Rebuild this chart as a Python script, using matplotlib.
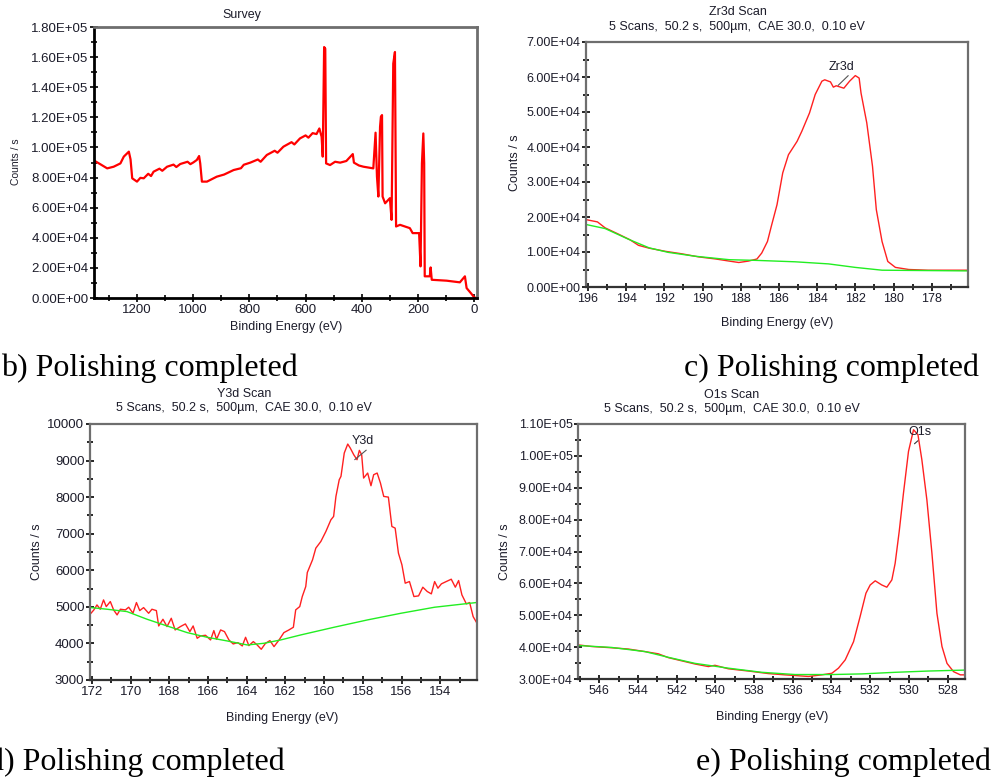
import matplotlib.pyplot as plt
from matplotlib.ticker import MultipleLocator, FuncFormatter

# Survey spectrum (binding energy eV, counts/s)
survey_be = [1350, 1330, 1306, 1283, 1259, 1247, 1229, 1223, 1217, 1200, 1188, 1176, 1160, 1150,
             1141, 1120, 1110, 1093, 1070, 1060, 1046, 1020, 1010, 999, 987, 979, 975, 969, 951,
             916, 890, 856, 830, 820, 797, 770, 760, 738, 710, 700, 679, 650, 640, 620, 600, 590,
             575, 561, 551, 543, 539, 534, 530, 527, 513, 495, 477, 455, 432, 428, 410, 394, 359,
             351, 346, 341, 335, 332, 328, 326, 317, 300, 294, 288, 282, 278, 264, 229, 219, 196,
             191, 186, 181, 178, 176, 158, 155, 151, 98, 51, 33, 27, 9, 0, -8]
survey_cps = [91.0, 88.8, 86.1, 87.2, 89.4, 93.9, 97.2, 92.1, 79.5, 77.3, 79.8, 79.5, 82.5, 81.0,
              83.9, 85.9, 84.5, 87.2, 88.6, 87.0, 89.0, 90.5, 88.9, 90.1, 91.7, 94.3, 89.4, 77.3,
              77.3, 80.6, 82.0, 85.0, 86.2, 88.5, 89.9, 92.0, 90.5, 95.0, 97.8, 96.5, 100.5, 103.5,
              102.0, 106.0, 108.0, 106.5, 109.5, 108.9, 112.6, 107.1, 93.9, 166.7, 165.6, 89.4,
              88.3, 90.5, 89.9, 91.0, 95.6, 89.9, 88.0, 87.2, 86.1, 109.8, 80.6, 67.4, 113.7,
              120.4, 121.5, 67.4, 62.9, 66.3, 51.9, 155.7, 163.4, 47.5, 48.6, 46.4, 43.1, 43.1,
              21.0, 89.4, 109.3, 89.4, 14.4, 14.4, 20.3, 12.1, 11.5, 10.4, 14.4, 6.6, 2.6, 0.4, 0]

# Zr3d region
zr_be = [196.05, 195.5, 195.1, 194.4, 193.8, 193.35, 192.8, 191.95, 191.1, 190.2, 189.3, 188.6,
         188.1, 187.6, 187.15, 186.9, 186.6, 186.4, 186.1, 185.8, 185.5, 185.05, 184.8, 184.4,
         184.1, 183.75, 183.6, 183.3, 183.15, 183.0, 182.6, 182.3, 182.0, 181.8, 181.7, 181.4,
         181.1, 180.9, 180.6, 180.3, 179.9, 179.2, 178.2, 177.1, 176.1]
zr_cps = [19.2, 18.6, 16.9, 15.1, 13.5, 11.9, 11.1, 10.2, 9.5, 8.6, 8.0, 7.4, 7.0, 7.4, 8.0, 9.7,
          13.0, 17.3, 23.5, 32.6, 37.8, 41.6, 44.5, 49.7, 55.0, 58.8, 59.2, 58.6, 57.1, 57.5,
          56.8, 58.8, 60.4, 59.7, 55.4, 46.9, 34.5, 22.1, 13.0, 7.3, 5.6, 5.0, 4.8, 4.8, 4.8]
zr_bg_be = [196.05, 195.1, 193.9, 192.8, 191.8, 190.4, 188.6, 187.15, 185.15, 183.4, 182.0, 180.6, 176.1]
zr_bg_cps = [17.8, 16.7, 13.7, 11.2, 9.9, 8.8, 7.8, 7.6, 7.2, 6.6, 5.6, 4.8, 4.6]

# Y3d region
y_be = [172.05, 171.9, 171.74, 171.57, 171.4, 171.26, 171.05, 170.88, 170.7, 170.53, 170.27,
        170.1, 169.88, 169.7, 169.53, 169.33, 169.07, 168.9, 168.67, 168.55, 168.33, 168.12,
        167.9, 167.7, 167.43, 167.17, 166.94, 166.77, 166.56, 166.39, 166.13, 165.87, 165.7,
        165.56, 165.35, 165.15, 164.92, 164.7, 164.46, 164.23, 164.06, 163.89, 163.66, 163.46,
        163.25, 163.03, 162.8, 162.59, 162.33, 162.08, 161.82, 161.59, 161.47, 161.26, 161.13,
        160.95, 160.87, 160.6, 160.43, 160.17, 159.91, 159.65, 159.51, 159.39, 159.22, 159.13,
        158.96, 158.78, 158.65, 158.47, 158.3, 158.18, 158.06, 157.96, 157.75, 157.58, 157.44,
        157.26, 157.09, 156.92, 156.68, 156.5, 156.33, 156.16, 155.98, 155.81, 155.59, 155.36,
        155.12, 154.9, 154.67, 154.46, 154.29, 154.12, 153.94, 153.69, 153.43, 153.22, 153.05,
        152.88, 152.65, 152.48, 152.3, 152.05]
y_cps = [4825, 4917, 5053, 4935, 5190, 5008, 5145, 4917, 4780, 4935, 4917, 4990, 4825, 5118,
         4898, 4980, 4825, 4935, 4898, 4478, 4661, 4460, 4688, 4369, 4460, 4533, 4323, 4478,
         4141, 4205, 4223, 4095, 4351, 4114, 4369, 4323, 4095, 3986, 4022, 3931, 4168, 3940,
         4050, 3958, 3840, 4004, 4077, 3913, 4095, 4296, 4369, 4442, 4917, 5008, 5282, 5555,
         5939, 6286, 6605, 6788, 7061, 7381, 7472, 8020, 8476, 8567, 9206, 9452, 9343, 9160,
         9024, 9279, 9160, 8522, 8659, 8312, 8613, 8659, 8385, 8020, 8001, 7198, 7153, 6468,
         6149, 5647, 5692, 5282, 5300, 5537, 5419, 5355, 5692, 5510, 5629, 5692, 5756, 5537,
         5720, 5327, 5081, 5118, 4734, 4506]
y_bg_be = [172.05, 171.22, 170.19, 169.15, 168.12, 167.08, 166.04, 165.01, 163.97, 163.11,
           162.25, 161.21, 159.49, 157.76, 156.03, 154.29, 152.13]
y_bg_cps = [4980, 4935, 4871, 4661, 4478, 4296, 4168, 4068, 3958, 4004, 4095, 4232, 4442, 4643,
            4825, 4990, 5118]

# O1s region
o_be = [547.09, 546.4, 545.36, 544.5, 543.64, 542.95, 542.43, 541.74, 541.05, 540.36, 540.02,
        539.33, 538.29, 537.26, 536.4, 535.19, 534.5, 533.98, 533.64, 533.29, 532.86, 532.52,
        532.22, 532.0, 531.74, 531.4, 531.14, 530.88, 530.71, 530.5, 530.28, 530.02, 529.76,
        529.53, 529.33, 529.07, 528.81, 528.55, 528.29, 528.03, 527.69, 527.34, 527.09]
o_cps = [40.7, 40.2, 39.8, 39.4, 38.6, 37.9, 36.7, 35.7, 34.7, 33.9, 34.3, 33.2, 32.5, 31.7,
         31.3, 30.8, 31.3, 31.8, 33.4, 36.0, 41.7, 49.6, 56.9, 59.5, 60.8, 59.5, 58.8, 61.1,
         66.3, 76.3, 88.3, 101.4, 108.2, 106.6, 98.8, 86.2, 69.5, 50.6, 40.2, 34.9, 32.3, 31.3, 31.3]
o_bg_be = [547.09, 545.36, 543.64, 542.43, 541.05, 539.33, 537.6, 535.88, 533.98, 532.43, 530.71, 528.98, 527.09]
o_bg_cps = [40.5, 39.9, 38.6, 36.8, 34.9, 33.4, 32.1, 31.4, 31.4, 31.6, 32.1, 32.5, 32.8]

W, H = 993, 781
fig = plt.figure(figsize=(W / 100, H / 100), dpi=100)
plt.rcParams['font.family'] = ['Liberation Sans', 'DejaVu Sans']
tcol = '#1c1c2a'


def box(l, t, r, b):
    return fig.add_axes([l / W, 1 - b / H, (r - l) / W, (b - t) / H])


def ftext(x, y, s, **kw):
    fig.text(x / W, 1 - y / H, s, **kw)


def style(ax, xmaj, xmin, ymaj, ymin, sci, dark, fs):
    ax.xaxis.set_major_locator(MultipleLocator(xmaj))
    ax.xaxis.set_minor_locator(MultipleLocator(xmin))
    ax.yaxis.set_major_locator(MultipleLocator(ymaj))
    ax.yaxis.set_minor_locator(MultipleLocator(ymin))
    if sci:
        ax.yaxis.set_major_formatter(FuncFormatter(lambda v, p: '{:.2E}'.format(v)))
    else:
        ax.yaxis.set_major_formatter(FuncFormatter(lambda v, p: '%d' % round(v)))
    ax.xaxis.set_major_formatter(FuncFormatter(lambda v, p: '%d' % round(v)))
    lw = 2.0 if dark else 1.6
    ax.spines['left'].set_color('black' if dark else '#6e6e6e')
    ax.spines['bottom'].set_color('black' if dark else '#333333')
    ax.spines['top'].set_color('#6e6e6e')
    ax.spines['right'].set_color('#6e6e6e')
    for s in ax.spines.values():
        s.set_linewidth(lw)
    ax.tick_params(which='both', direction='inout', colors='black', labelcolor=tcol,
                   labelsize=fs, width=1.2)
    ax.tick_params(which='major', length=6, pad=1)
    ax.tick_params(which='minor', length=5)


# (a) Survey
ax1 = box(94, 27, 477, 298)
ax1.plot(survey_be, [v * 1000 for v in survey_cps], color='#ff0000', lw=1.6)
ax1.set_xlim(1353, -10)
ax1.set_ylim(0, 180000)
style(ax1, 200, 100, 20000, 10000, True, True, 9.5)
ftext(242, 15, 'Survey', ha='center', va='center', fontsize=9, color=tcol)
ftext(286, 327, 'Binding Energy (eV)', ha='center', va='center', fontsize=9, color=tcol)
ftext(16, 162, 'Counts / s', ha='center', va='center', rotation=90, fontsize=7.5, color=tcol)

sub = '5 Scans,  50.2 s,  500µm,  CAE 30.0,  0.10 eV'

# (b) Zr3d
ax2 = box(586, 42, 968, 287)
ax2.plot(zr_be, [v * 1000 for v in zr_cps], color='#ff2020', lw=1.0)
ax2.plot(zr_bg_be, [v * 1000 for v in zr_bg_cps], color='#22ee22', lw=1.0)
ax2.set_xlim(196.1, 176.1)
ax2.set_ylim(0, 70000)
style(ax2, 2, 1, 10000, 5000, True, False, 9)
ax2.annotate('Zr3d', xy=(182.9, 57600), xytext=(182.7, 62900), ha='center', va='center',
             fontsize=9, color=tcol,
             arrowprops=dict(arrowstyle='-', color='#555555', lw=0.8, shrinkA=0, shrinkB=0,
                             relpos=(1.0, 0.3)))
ftext(738, 12, 'Zr3d Scan', ha='center', va='center', fontsize=9, color=tcol)
ftext(737, 27, sub, ha='center', va='center', fontsize=9, color=tcol)
ftext(777, 323, 'Binding Energy (eV)', ha='center', va='center', fontsize=9, color=tcol)
ftext(515, 163, 'Counts / s', ha='center', va='center', rotation=90, fontsize=9, color=tcol)

# (c) Y3d
ax3 = box(90, 424, 477, 680)
ax3.plot(y_be, y_cps, color='#ff2020', lw=1.0)
ax3.plot(y_bg_be, y_bg_cps, color='#22ee22', lw=1.0)
ax3.set_xlim(172.1, 152.1)
ax3.set_ylim(3000, 10000)
style(ax3, 2, 1, 1000, 500, False, False, 9.5)
ax3.annotate('Y3d', xy=(158.42, 9024), xytext=(158.0, 9525), ha='center', va='center',
             fontsize=9, color=tcol,
             arrowprops=dict(arrowstyle='-', color='#555555', lw=0.8, shrinkA=0, shrinkB=0,
                             relpos=(1.0, 0.3)))
ftext(244, 394, 'Y3d Scan', ha='center', va='center', fontsize=9, color=tcol)
ftext(244, 408, sub, ha='center', va='center', fontsize=9, color=tcol)
ftext(282, 718, 'Binding Energy (eV)', ha='center', va='center', fontsize=9, color=tcol)
ftext(37, 552, 'Counts / s', ha='center', va='center', rotation=90, fontsize=9, color=tcol)

# (d) O1s
ax4 = box(578, 424, 965, 679)
ax4.plot(o_be, [v * 1000 for v in o_cps], color='#ff2020', lw=1.0)
ax4.plot(o_bg_be, [v * 1000 for v in o_bg_cps], color='#22ee22', lw=1.0)
ax4.set_xlim(547.1, 527.1)
ax4.set_ylim(30000, 110000)
style(ax4, 2, 1, 10000, 5000, True, False, 9)
ax4.annotate('O1s', xy=(529.71, 103800), xytext=(529.41, 107500), ha='center', va='center',
             fontsize=9, color=tcol,
             arrowprops=dict(arrowstyle='-', color='#333333', lw=0.8, shrinkA=0, shrinkB=0,
                             relpos=(1.0, 0.8)))
ftext(732, 395, 'O1s Scan', ha='center', va='center', fontsize=9, color=tcol)
ftext(732, 409, sub, ha='center', va='center', fontsize=9, color=tcol)
ftext(772, 717, 'Binding Energy (eV)', ha='center', va='center', fontsize=9, color=tcol)
ftext(505, 552, 'Counts / s', ha='center', va='center', rotation=90, fontsize=9, color=tcol)

# captions
cap = dict(fontsize=23, family='Liberation Serif', va='center', color='black')
ftext(1, 368, 'b) Polishing completed', ha='left', **cap)
ftext(979, 368, 'c) Polishing completed', ha='right', **cap)
ftext(-12, 762, 'd) Polishing completed', ha='left', **cap)
ftext(991, 762, 'e) Polishing completed', ha='right', **cap)

fig.savefig('out.png', dpi=100)
